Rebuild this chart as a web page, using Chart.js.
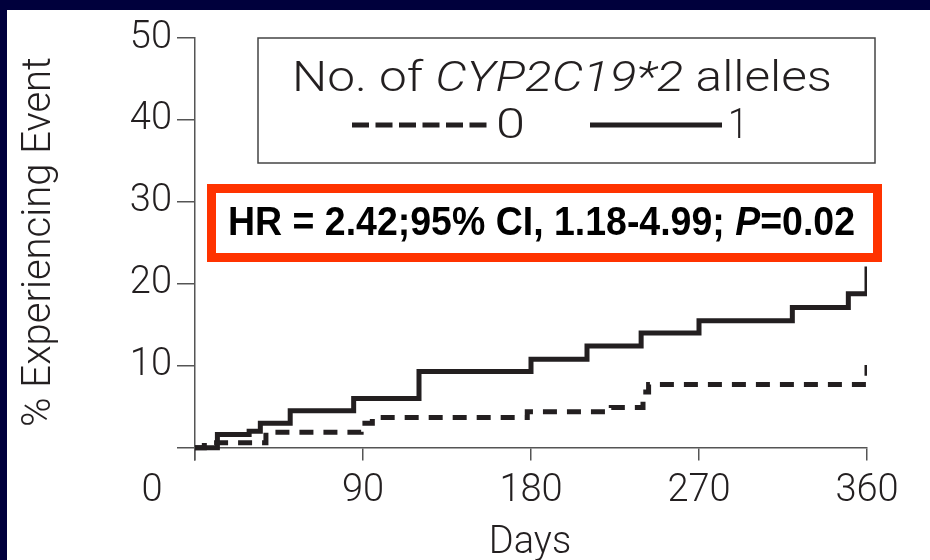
<!DOCTYPE html>
<html>
<head>
<meta charset="utf-8">
<script src="https://cdn.jsdelivr.net/npm/chart.js@4.4.0/dist/chart.umd.min.js"></script>
<style>
  html, body { margin: 0; padding: 0; background: #00003c; overflow: hidden; }
  #wrap { position: absolute; left: 7px; top: 10px; width: 923px; height: 550px; background: #fff; }
</style>
</head>
<body>
<div id="wrap"><canvas id="km"></canvas></div>
<script>
// cumulative % with event (step times in days)
const days0 = [0, 5, 38, 89, 95, 178, 223, 240, 243, 360];
const pct0  = [0, 0.6, 1.9, 3.0, 3.7, 4.4, 4.9, 6.8, 7.7, 10.1];
const days1 = [0, 12, 29, 35, 51, 85, 120, 180, 210, 239, 270, 320, 350, 360];
const pct1  = [0, 1.6, 2.0, 3.0, 4.5, 6.0, 9.3, 10.8, 12.4, 14.0, 15.5, 17.1, 18.8, 22.1];

const xTicks = [0, 90, 180, 270, 360];
const yTicks = [0, 10, 20, 30, 40, 50];
const seriesLabels = ['0', '1'];

const fontFamily = "Roboto, 'Liberation Sans', sans-serif";
const ink = '#231f20';
const axisGray = '#555';

function toPoints(xs, ys) {
  return xs.map((d, i) => ({ x: d, y: ys[i] }));
}

// draw a row of text pieces with different fonts from x0, squeezed/stretched to width w
function drawRuns(ctx, runs, x0, cy, w) {
  let total = 0;
  runs.forEach(r => { ctx.font = r.font; total += ctx.measureText(r.text).width; });
  ctx.save();
  ctx.translate(x0, cy);
  ctx.scale(w ? w / total : 1, 1);
  ctx.textAlign = 'left';
  ctx.textBaseline = 'middle';
  let x = 0;
  runs.forEach(r => {
    ctx.font = r.font;
    ctx.fillText(r.text, x, 0);
    x += ctx.measureText(r.text).width;
  });
  ctx.restore();
}

const decor = {
  id: 'decor',
  afterDraw(chart) {
    const { ctx } = chart;
    const x = chart.scales.x, y = chart.scales.y;
    ctx.save();
    ctx.fillStyle = ink;

    // the x "0" label sits out at the corner, left of the y axis
    ctx.font = `300 38px ${fontFamily}`;
    ctx.textAlign = 'center';
    ctx.textBaseline = 'middle';
    ctx.fillText('0', x.getPixelForValue(0) - 43, y.getPixelForValue(0) + 44);

    // axis titles
    ctx.fillText('Days', 523, 533);
    ctx.save();
    ctx.translate(33, 232);
    ctx.rotate(-Math.PI / 2);
    ctx.font = `300 40px ${fontFamily}`;
    ctx.fillText('% Experiencing Event', 0, 0);
    ctx.restore();

    // legend box
    ctx.strokeStyle = '#444';
    ctx.lineWidth = 1.5;
    ctx.strokeRect(251, 28, 617, 125);
    const reg = `300 42px ${fontFamily}`;
    const ita = `italic 300 42px ${fontFamily}`;
    drawRuns(ctx, [
      { text: 'No. of ', font: reg },
      { text: 'CYP2C19*2', font: ita },
      { text: ' alleles', font: reg }
    ], 285, 70, 540);

    ctx.strokeStyle = ink;
    ctx.lineWidth = 5;
    ctx.setLineDash([17, 6.5]);
    ctx.beginPath(); ctx.moveTo(345, 115); ctx.lineTo(481, 115); ctx.stroke();
    ctx.setLineDash([]);
    ctx.beginPath(); ctx.moveTo(583, 115); ctx.lineTo(715, 115); ctx.stroke();
    drawRuns(ctx, [{ text: seriesLabels[0], font: reg }], 489, 117, 29);
    drawRuns(ctx, [{ text: seriesLabels[1], font: reg }], 721, 117, 20);

    // hazard ratio box
    ctx.strokeStyle = '#ff3300';
    ctx.lineWidth = 9;
    ctx.strokeRect(204.5, 178.5, 666, 69);
    ctx.fillStyle = '#000';
    const b = "bold 41px 'Liberation Sans', Arial, sans-serif";
    const bi = "italic bold 41px 'Liberation Sans', Arial, sans-serif";
    drawRuns(ctx, [
      { text: 'HR = 2.42;95% CI, 1.18-4.99; ', font: b },
      { text: 'P', font: bi },
      { text: '=0.02', font: b }
    ], 221, 214, 627);

    ctx.restore();
  }
};

const lineStyle = {
  borderColor: ink,
  borderWidth: 5,
  pointRadius: 0,
  fill: false,
  stepped: true,
  borderCapStyle: 'butt',
  borderJoinStyle: 'miter'
};

new Chart(document.getElementById('km'), {
  type: 'line',
  data: {
    datasets: [
      { ...lineStyle, label: seriesLabels[0], data: toPoints(days0, pct0), borderDash: [14, 10] },
      { ...lineStyle, label: seriesLabels[1], data: toPoints(days1, pct1) }
    ]
  },
  options: {
    responsive: true,
    maintainAspectRatio: false,
    animation: false,
    layout: { padding: { left: 0, right: 63, top: 28, bottom: 100 } },
    plugins: {
      legend: { display: false },
      tooltip: { enabled: false }
    },
    scales: {
      x: {
        type: 'linear',
        min: 0,
        max: 360,
        position: { y: 0 },
        afterBuildTicks: axis => { axis.ticks = xTicks.map(v => ({ value: v })); },
        afterFit: axis => { axis.height = 0; },
        grid: { drawOnChartArea: false, drawTicks: true, tickLength: 12, color: axisGray, lineWidth: 1.5 },
        border: { color: axisGray, width: 1.5 },
        ticks: {
          autoSkip: false,
          maxRotation: 0,
          padding: 9,
          color: ink,
          font: { family: fontFamily, size: 38, weight: 300 },
          callback: v => (v === 0 ? '' : String(v))
        }
      },
      y: {
        type: 'linear',
        min: -1.5,
        max: 50,
        position: 'left',
        afterBuildTicks: axis => { axis.ticks = yTicks.map(v => ({ value: v })); },
        afterFit: axis => { axis.width = 188; },
        grid: { drawOnChartArea: false, drawTicks: true, tickLength: 18, color: axisGray, lineWidth: 1.5 },
        border: { color: axisGray, width: 1.5 },
        ticks: {
          padding: 5,
          color: ink,
          font: { family: fontFamily, size: 38, weight: 300 },
          callback: v => (v === 0 ? '' : String(v))
        }
      }
    }
  },
  plugins: [decor]
});
</script>
</body>
</html>
